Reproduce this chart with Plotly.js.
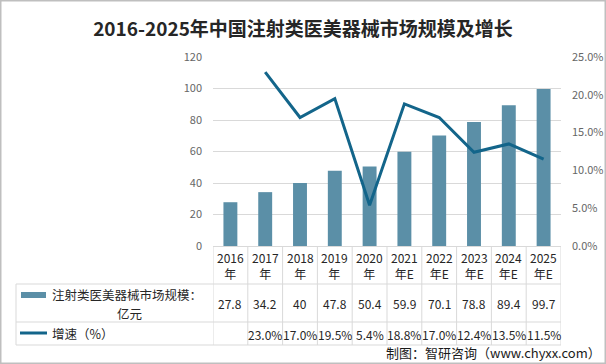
<!DOCTYPE html>
<html><head><meta charset="utf-8">
<script src="https://cdn.plot.ly/plotly-3.0.1.min.js"></script>
<style>html,body{margin:0;padding:0;background:#fff}#chart{width:606px;height:364px}</style>
</head><body><div id="chart"></div>
<script>
// ---- data ----
const categories = ["2016年","2017年","2018年","2019年","2020年","2021年E","2022年E","2023年E","2024年E","2025年E"];
const marketSize = [27.8, 34.2, 40, 47.8, 50.4, 59.9, 70.1, 78.8, 89.4, 99.7];
const growthRate = [null, 23.0, 17.0, 19.5, 5.4, 18.8, 17.0, 12.4, 13.5, 11.5];
const seriesNameLines = ["注射类医美器械市场规模：", "亿元"];
const growthName = "增速（%）";
const titleText = "2016-2025年中国注射类医美器械市场规模及增长";
const sourceText = "制图：智研咨询（www.chyxx.com）";

// ---- layout helpers ----
const W = 606, H = 364, L = 213, R = 45, T = 57, B = 118;
const PW = W - L - R, PH = H - T - B;
const px = v => (v - L) / PW;
const py = v => (H - B - v) / PH;

const barColor = "#5B8FA7", lineColor = "#13658A", gridColor = "#D9D9D9";
const FONT = "'Noto Sans CJK SC', 'Noto Sans', sans-serif";
const textColor = "#262626";

const traces = [
  {type: "bar", x: categories, y: marketSize, name: seriesNameLines.join(""), marker: {color: barColor}, width: 0.4, yaxis: "y", hoverinfo: "skip"},
  {type: "scatter", mode: "lines", x: categories, y: growthRate, name: growthName, line: {color: lineColor, width: 3}, yaxis: "y2", connectgaps: false, hoverinfo: "skip"}
];

const shapes = [];
const tableLine = {color: gridColor, width: 1};
[284, 322, 345].forEach(y => shapes.push({type: "line", xref: "paper", yref: "paper", x0: px(16), x1: 1, y0: py(y), y1: py(y), line: tableLine, layer: "below"}));
shapes.push({type: "line", xref: "paper", yref: "paper", x0: px(16), x1: px(16), y0: py(284), y1: py(345), line: tableLine});
for (let i = 0; i <= categories.length; i++) {
  shapes.push({type: "line", xref: "x", yref: "paper", x0: i - 0.5, x1: i - 0.5, y0: 0, y1: py(345), line: tableLine});
}
shapes.push({type: "rect", xref: "paper", yref: "paper", x0: px(21), x1: px(46), y0: py(292), y1: py(298), fillcolor: barColor, line: {width: 0}});
shapes.push({type: "line", xref: "paper", yref: "paper", x0: px(20), x1: px(47), y0: py(333), y1: py(333), line: {color: lineColor, width: 3}});
shapes.push({type: "rect", xref: "paper", yref: "paper", x0: px(0.75), x1: px(W - 0.75), y0: py(0.75), y1: py(H - 0.75), line: {color: "#BFBFBF", width: 1.5}});

const annotations = [];
const tfont = {family: FONT, size: 12, color: textColor};
categories.forEach((c, i) => {
  annotations.push({xref: "x", yref: "paper", x: c, y: py(265), text: c.replace("年", "<br>年"), showarrow: false, xanchor: "center", yanchor: "middle", font: tfont});
  annotations.push({xref: "x", yref: "paper", x: c, y: py(303), text: String(marketSize[i]), showarrow: false, xanchor: "center", yanchor: "middle", font: tfont});
  if (growthRate[i] !== null) {
    annotations.push({xref: "x", yref: "paper", x: c, y: py(334), text: growthRate[i].toFixed(1) + "%", showarrow: false, xanchor: "center", yanchor: "middle", font: tfont});
  }
});
const lfont = {family: FONT, size: 12, color: textColor};
annotations.push({xref: "paper", yref: "paper", x: px(127), y: py(294), text: seriesNameLines[0], showarrow: false, xanchor: "center", yanchor: "middle", borderpad: 0, font: {family: FONT, size: 12.5, color: textColor}});
annotations.push({xref: "paper", yref: "paper", x: px(129), y: py(313.5), text: seriesNameLines[1], showarrow: false, xanchor: "center", yanchor: "middle", borderpad: 0, font: {family: FONT, size: 12.5, color: textColor}});
annotations.push({xref: "paper", yref: "paper", x: px(50), y: py(333), text: growthName, showarrow: false, xanchor: "left", yanchor: "middle", font: {family: FONT, size: 12.5, color: textColor}});
annotations.push({xref: "paper", yref: "paper", x: px(603), y: py(352), text: sourceText, showarrow: false, xanchor: "right", yanchor: "middle", font: {family: FONT, size: 13, color: "#1a1a1a"}});

const layout = {
  width: W, height: H,
  margin: {l: L, r: R, t: T, b: B, pad: 0},
  paper_bgcolor: "#fff", plot_bgcolor: "#fff",
  showlegend: false,
  title: {text: "<b>" + titleText + "</b>", x: 0.5, xref: "container", xanchor: "center", y: 1 - 29 / H, yref: "container", yanchor: "middle", font: {family: FONT, size: 19, color: "#262626"}},
  xaxis: {type: "category", range: [-0.5, categories.length - 0.5], showticklabels: false, ticks: "", showgrid: false, zeroline: false, showline: false, fixedrange: true},
  yaxis: {range: [0, 120], dtick: 20, showgrid: true, gridcolor: gridColor, gridwidth: 1, zeroline: true, zerolinecolor: gridColor, zerolinewidth: 1, showline: false, ticks: "", ticklabelstandoff: 10, tickfont: {family: FONT, size: 11, color: "#666"}},
  yaxis2: {range: [0, 25], dtick: 5, overlaying: "y", side: "right", showgrid: false, zeroline: false, showline: false, ticks: "", tickformat: ".1f", ticksuffix: "%", ticklabelstandoff: 10, tickfont: {family: FONT, size: 11, color: "#666"}},
  shapes: shapes,
  annotations: annotations
};

Plotly.newPlot("chart", traces, layout, {displayModeBar: false, staticPlot: true});
</script>
</body></html>
